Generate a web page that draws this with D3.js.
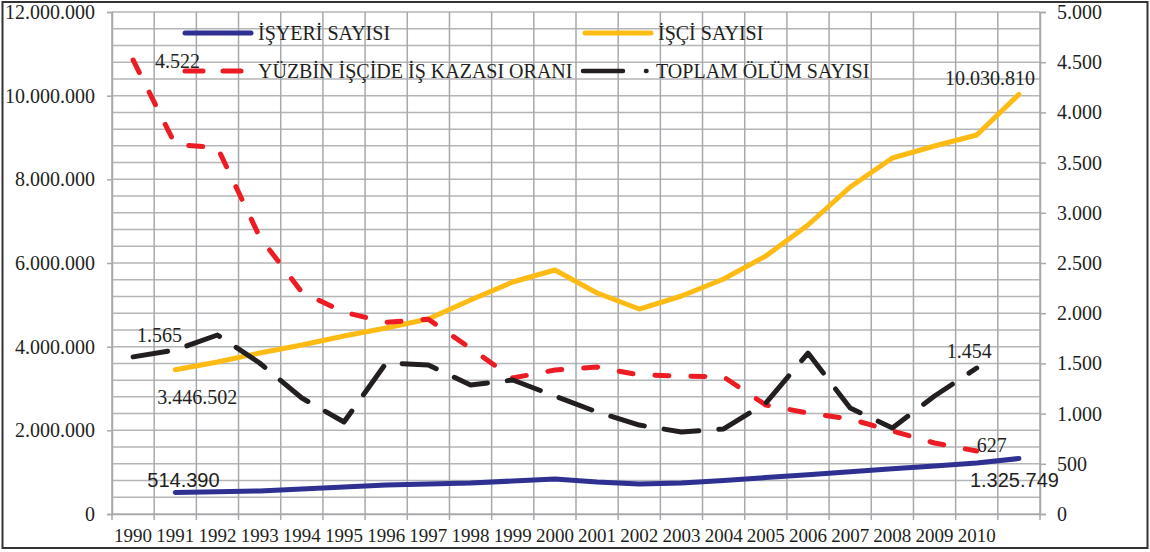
<!DOCTYPE html>
<html>
<head>
<meta charset="utf-8">
<script src="https://cdn.jsdelivr.net/npm/d3@7"></script>
<style>
    body { margin: 0; background: #ffffff; }
    #chart { width: 1150px; height: 552px; }
    text { fill: #231f20; }
</style>
</head>
<body>
<div id="chart"></div>
<script>
// year labels on the category axis (the last slot carries no label)
const yearLabels = ['1990', '1991', '1992', '1993', '1994', '1995', '1996', '1997', '1998', '1999', '2000',
    '2001', '2002', '2003', '2004', '2005', '2006', '2007', '2008', '2009', '2010', ''];

// left axis series (start on the 2nd slot)
const isyeriSayisi = [514390, 530000, 550000, 598000, 645000, 693000, 717000, 741000, 789000, 836000, 765000,
    717000, 741000, 800000, 870000, 940000, 1010000, 1080000, 1150000, 1220000, 1325749];
const isciSayisi = [3446502, 3633000, 3849000, 4040000, 4255000, 4446000, 4661000, 5115000, 5546000, 5833000, 5283000,
    4900000, 5211000, 5617000, 6167000, 6908000, 7817000, 8510000, 8797000, 9060000, 10030810];

// right axis series (start on the 1st slot)
const kazaOrani = [4522, 3680, 3650, 2760, 2210, 2010, 1910, 1940, 1650, 1355, 1434,
    1464, 1385, 1375, 1365, 1085, 1006, 946, 827, 707, 627];
const olumSayisi = [1565, 1633, 1783, 1504, 1155, 916, 1504, 1484, 1285, 1335, 1175,
    1016, 886, 817, 847, 1105, 1603, 1056, 857, 1175, 1454];

const leftTicks = [0, 2000000, 4000000, 6000000, 8000000, 10000000, 12000000];
const rightTicks = [0, 500, 1000, 1500, 2000, 2500, 3000, 3500, 4000, 4500, 5000];

const width = 1150;
const height = 552;
const plot = { left: 112, right: 1040, top: 12, bottom: 514 };

const trFormat = d3.formatLocale({ decimal: ',', thousands: '.', grouping: [3], currency: ['', ''] }).format(',');

const svg = d3.select('#chart')
    .append('svg')
    .attr('width', width)
    .attr('height', height)
    .attr('viewBox', '0 0 ' + width + ' ' + height);

// outer frame
svg.append('rect')
    .attr('x', 2.5).attr('y', 2).attr('width', 1145).attr('height', 546)
    .attr('fill', 'none').attr('stroke', '#333').attr('stroke-width', 2);

const x = d3.scaleBand()
    .domain(d3.range(yearLabels.length))
    .range([plot.left, plot.right])
    .padding(0);
const cx = function(i) { return x(i) + x.bandwidth() / 2; };

const yLeft = d3.scaleLinear().domain([0, 12000000]).range([plot.bottom, plot.top]);
const yRight = d3.scaleLinear().domain([0, 5000]).range([plot.bottom, plot.top]);

// grid: minor horizontal lines every 400.000 on the left axis
const gGrid = svg.append('g').attr('class', 'grid');
gGrid.selectAll('line.h')
    .data(d3.range(0, 12000001, 400000))
    .join('line')
    .attr('class', 'h')
    .attr('x1', plot.left).attr('x2', plot.right)
    .attr('y1', function(d) { return yLeft(d); })
    .attr('y2', function(d) { return yLeft(d); })
    .attr('stroke', '#b4b5b8').attr('stroke-width', 1.5);

gGrid.selectAll('line.v')
    .data(d3.range(yearLabels.length + 1))
    .join('line')
    .attr('class', 'v')
    .attr('x1', function(d) { return plot.left + d * x.bandwidth(); })
    .attr('x2', function(d) { return plot.left + d * x.bandwidth(); })
    .attr('y1', plot.top).attr('y2', plot.bottom)
    .attr('stroke', '#a7a9ac').attr('stroke-width', 1.5);

// axes
const axisLeft = svg.append('g')
    .attr('transform', 'translate(' + plot.left + ',0)')
    .call(d3.axisLeft(yLeft).tickValues(leftTicks).tickFormat(trFormat).tickSize(5).tickPadding(12));
const axisRight = svg.append('g')
    .attr('transform', 'translate(' + plot.right + ',0)')
    .call(d3.axisRight(yRight).tickValues(rightTicks).tickFormat(trFormat).tickSize(6).tickPadding(11));
const axisBottom = svg.append('g')
    .attr('transform', 'translate(0,' + plot.bottom + ')')
    .call(d3.axisBottom(x).tickFormat(function(i) { return yearLabels[i]; }).tickSize(0).tickPadding(15));

// category boundary ticks on the bottom axis
axisBottom.selectAll('line.bound')
    .data(d3.range(yearLabels.length + 1))
    .join('line')
    .attr('class', 'bound')
    .attr('x1', function(d) { return plot.left + d * x.bandwidth(); })
    .attr('x2', function(d) { return plot.left + d * x.bandwidth(); })
    .attr('y1', 0).attr('y2', 6)
    .attr('stroke', '#a7a9ac').attr('stroke-width', 1.5);

[axisLeft, axisRight, axisBottom].forEach(function(a) {
    a.select('.domain').attr('stroke', '#a7a9ac').attr('stroke-width', 1.5);
    a.selectAll('.tick line').attr('stroke', '#a7a9ac').attr('stroke-width', 1.5);
    a.selectAll('.tick text')
        .attr('font-family', '"Liberation Serif", "Times New Roman", serif')
        .attr('font-size', 20)
        .attr('fill', '#231f20');
});
axisBottom.selectAll('.tick text').attr('font-size', 19);

// series lines
function drawSeries(values, slotOffset, yScale, color, dash) {
    const line = d3.line()
        .x(function(d, i) { return cx(i + slotOffset); })
        .y(function(d) { return yScale(d); });
    return svg.append('path')
        .datum(values)
        .attr('d', line)
        .attr('fill', 'none')
        .attr('stroke', color)
        .attr('stroke-width', 5)
        .attr('stroke-linejoin', 'round')
        .attr('stroke-linecap', 'round')
        .attr('stroke-dasharray', dash);
}

drawSeries(isyeriSayisi, 1, yLeft, '#2e3192', null);
drawSeries(isciSayisi, 1, yLeft, '#fdbb14', null);
drawSeries(kazaOrani, 0, yRight, '#ed1c24', '14,22');
drawSeries(olumSayisi, 0, yRight, '#231f20', '35,20');

// data labels at first and last points
const serif = '"Liberation Serif", "Times New Roman", serif';
const sans = '"Liberation Sans", Arial, sans-serif';
const last = kazaOrani.length - 1;
const dataLabels = [
    { text: trFormat(kazaOrani[0]), x: cx(0) + 22, y: yRight(kazaOrani[0]) + 8, anchor: 'start', font: serif },
    { text: trFormat(olumSayisi[0]), x: cx(0) + 4, y: yRight(olumSayisi[0]) - 15, anchor: 'start', font: serif },
    { text: trFormat(isciSayisi[0]), x: cx(1) - 18, y: yLeft(isciSayisi[0]) + 34, anchor: 'start', font: serif },
    { text: trFormat(isyeriSayisi[0]), x: cx(1) - 28, y: yLeft(isyeriSayisi[0]) - 5, anchor: 'start', font: sans },
    { text: trFormat(isciSayisi[last]), x: cx(last + 1) + 16, y: yLeft(isciSayisi[last]) - 9, anchor: 'end', font: serif },
    { text: trFormat(olumSayisi[last]), x: cx(last) - 30, y: yRight(olumSayisi[last]) - 10, anchor: 'start', font: serif },
    { text: trFormat(kazaOrani[last]), x: cx(last), y: yRight(kazaOrani[last]) + 1, anchor: 'start', font: serif },
    { text: trFormat(isyeriSayisi[last]), x: cx(last + 1) - 49, y: yLeft(isyeriSayisi[last]) + 28, anchor: 'start', font: sans }
];
svg.append('g').selectAll('text')
    .data(dataLabels)
    .join('text')
    .attr('x', function(d) { return d.x; })
    .attr('y', function(d) { return d.y; })
    .attr('text-anchor', function(d) { return d.anchor; })
    .attr('font-family', function(d) { return d.font; })
    .attr('font-size', 20)
    .text(function(d) { return d.text; });

// legend
const legendItems = [
    { label: 'İŞYERİ SAYISI', color: '#2e3192', dash: null, x: 185, y: 33 },
    { label: 'İŞÇİ SAYISI', color: '#fdbb14', dash: null, x: 585, y: 33 },
    { label: 'YÜZBİN İŞÇİDE İŞ KAZASI ORANI', color: '#ed1c24', dash: '18,20', x: 185, y: 71 },
    { label: 'TOPLAM ÖLÜM SAYISI', color: '#231f20', dash: '40,23,0.5,100', x: 583, y: 71 }
];
const gLegend = svg.append('g').attr('class', 'legend');
const legendRows = gLegend.selectAll('g.item')
    .data(legendItems)
    .join('g')
    .attr('class', 'item')
    .attr('transform', function(d) { return 'translate(' + d.x + ',' + d.y + ')'; });
legendRows.append('line')
    .attr('x1', 0).attr('x2', 66)
    .attr('y1', 0).attr('y2', 0)
    .attr('stroke', function(d) { return d.color; })
    .attr('stroke-width', function(d) { return d.dash && d.dash.split(',').length > 2 ? 4.5 : 5; })
    .attr('stroke-linecap', 'round')
    .attr('stroke-dasharray', function(d) { return d.dash; });
legendRows.append('text')
    .attr('x', 73)
    .attr('y', 7)
    .attr('font-family', serif)
    .attr('font-size', 20)
    .text(function(d) { return d.label; });
</script>
</body>
</html>
